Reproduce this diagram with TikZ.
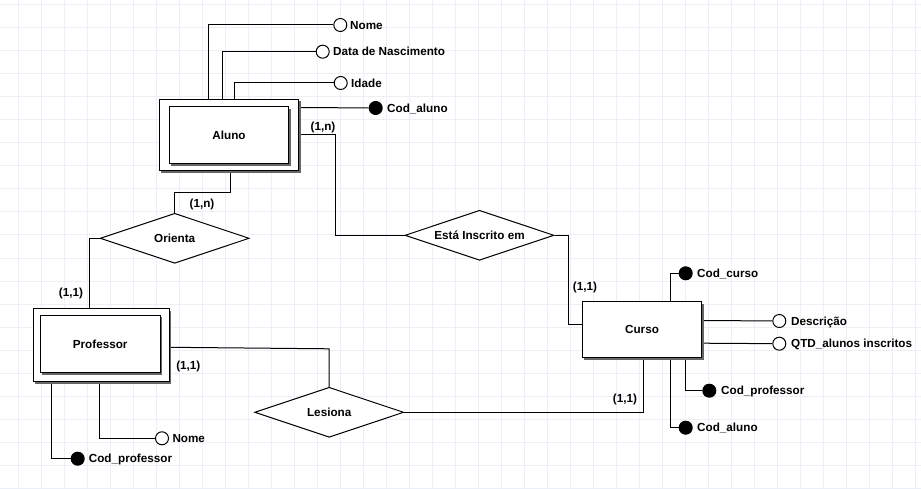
\documentclass[tikz,border=0pt]{standalone}
\usepackage{fontspec}
\setmainfont{Liberation Sans}
\usetikzlibrary{shapes.geometric,calc,shadows}
\definecolor{gridc}{RGB}{234,240,246}
\pgfdeclarelayer{bg}
\pgfsetlayers{bg,main}
\begin{document}
\begin{tikzpicture}[x=1pt,y=-1pt,
  every node/.style={font=\fontsize{11.7}{14}\selectfont\bfseries, text height=8.4pt, text depth=0pt},
  ln/.style={line width=1pt, black},
  gline/.style={line width=1pt, gridc},
  ent/.style={draw, line width=1pt, fill=white, rectangle, inner sep=0,
    drop shadow={shadow xshift=2pt, shadow yshift=-2pt, fill=black!60, opacity=1}},
  rel/.style={draw, line width=1pt, fill=white, diamond, aspect=3, inner sep=0,
    minimum width=149pt, minimum height=50pt},
  att/.style={circle, draw, line width=1pt, fill=white, minimum size=13pt, inner sep=0},
  key/.style={att, fill=black},
  lbl/.style={anchor=west, inner sep=0},
  card/.style={inner sep=0}]
\useasboundingbox (0,0) rectangle (921,489);

% entities
\node[ent, minimum width=139.4pt, minimum height=71.4pt] (aluno) at (229,135) {};
\node[ent, minimum width=119.4pt, minimum height=57.3pt] (alunoIn) at (229,135.3) {Aluno};
\node[ent, minimum width=136pt, minimum height=73.3pt] (prof) at (101.3,345.3) {};
\node[ent, minimum width=119.7pt, minimum height=57.4pt] (profIn) at (100.2,344) {Professor};
\node[ent, minimum width=119.4pt, minimum height=56pt] (curso) at (642,329.7) {Curso};

% relationships
\node[rel] (orienta) at (174.7,238.3) {Orienta};
\node[rel] (inscrito) at (479.5,235.3) {Está Inscrito em};
\node[rel] (lesiona) at (329.2,412.3) {Lesiona};

% Aluno attributes
\node[att] (nomeAc) at (340.3,25) {};   \node[lbl] (nomeAl) at (350,25) {Nome};
\node[att] (dataNc) at (322.7,51.7) {}; \node[lbl] (dataNl) at (333,51.7) {Data de Nascimento};
\node[att] (idadec) at (340.7,83) {};   \node[lbl] (idadel) at (351,83) {Idade};
\node[key] (codAc) at (375.7,108) {};   \node[lbl] (codAl) at (387,108) {Cod\_aluno};

% Curso attributes
\node[key] (codCc) at (685.7,273.3) {}; \node[lbl] (codCl) at (697,273.3) {Cod\_curso};
\node[att] (descc) at (779.3,321) {};   \node[lbl] (descl) at (791,321) {Descrição};
\node[att] (qtdc) at (779.3,343.7) {};  \node[lbl] (qtdl) at (791,343.7) {QTD\_alunos inscritos};
\node[key] (codPc) at (709.3,390.7) {}; \node[lbl] (codPl) at (721,390.7) {Cod\_professor};
\node[key] (codAcc) at (685.7,427.7) {};\node[lbl] (codAcl) at (697,427.7) {Cod\_aluno};

% Professor attributes
\node[att] (nomePc) at (162,438.3) {};  \node[lbl] (nomePl) at (172.3,438.3) {Nome};
\node[key] (codPrc) at (77.7,458.7) {}; \node[lbl] (codPrl) at (88.7,458.7) {Cod\_professor};

% cardinalities
\node[card] (c1) at (323,126) {(1,n)};
\node[card] (c2) at (202,203.7) {(1,n)};
\node[card] (c3) at (71,292) {(1,1)};
\node[card] (c4) at (188.3,365) {(1,1)};
\node[card] (c5) at (585,286.7) {(1,1)};
\node[card] (c6) at (625,398.3) {(1,1)};

\begin{pgfonlayer}{bg}
  \fill[white] (0,0) rectangle (921,489);
  \foreach \k in {0,...,39} \draw[gline] ({18.3+23*\k},0) -- ++(0,489);
  \foreach \k in {0,...,21} \draw[gline] (0,{5+23*\k}) -- ++(921,0);

  \draw[ln] ($(aluno.north west)+(50,0)$) |- (nomeAc);
  \draw[ln] ($(aluno.north west)+(64,0)$) |- (dataNc);
  \draw[ln] ($(aluno.north west)+(76,0)$) |- (idadec);
  \draw[ln] ($(aluno.north east)+(0,8.7)$) -- (codAc);

  \draw[ln] ($(aluno.south)+(1.3,0)$) -- ++(0,21.6) -| (orienta.north);
  \draw[ln] (orienta.west) -| ($(prof.north)+(-12,0)$);
  \draw[ln] (aluno.east) -- ++(36.3,0) |- (inscrito.west);
  \draw[ln] (inscrito.east) -- ++(14.3,0) |- ($(curso.west)+(0,-5.4)$);
  \draw[ln] ($(prof.east)+(0,2)$) -- ($(lesiona.north)+(0,-38)$) -- (lesiona.north);
  \draw[ln] (lesiona.east) -| ($(curso.south)+(1.7,0)$);

  \draw[ln] ($(curso.north west)+(88.4,0)$) |- (codCc);
  \draw[ln] ($(curso.north east)+(0,19.3)$) -- (descc);
  \draw[ln] ($(curso.north east)+(0,42)$) -- (qtdc);
  \draw[ln] ($(curso.south west)+(103.4,0)$) |- (codPc);
  \draw[ln] ($(curso.south west)+(88.4,0)$) |- (codAcc);

  \draw[ln] ($(prof.south west)+(67,0)$) |- (nomePc);
  \draw[ln] ($(prof.south west)+(18.4,0)$) |- (codPrc);
\end{pgfonlayer}
\end{tikzpicture}
\end{document}
